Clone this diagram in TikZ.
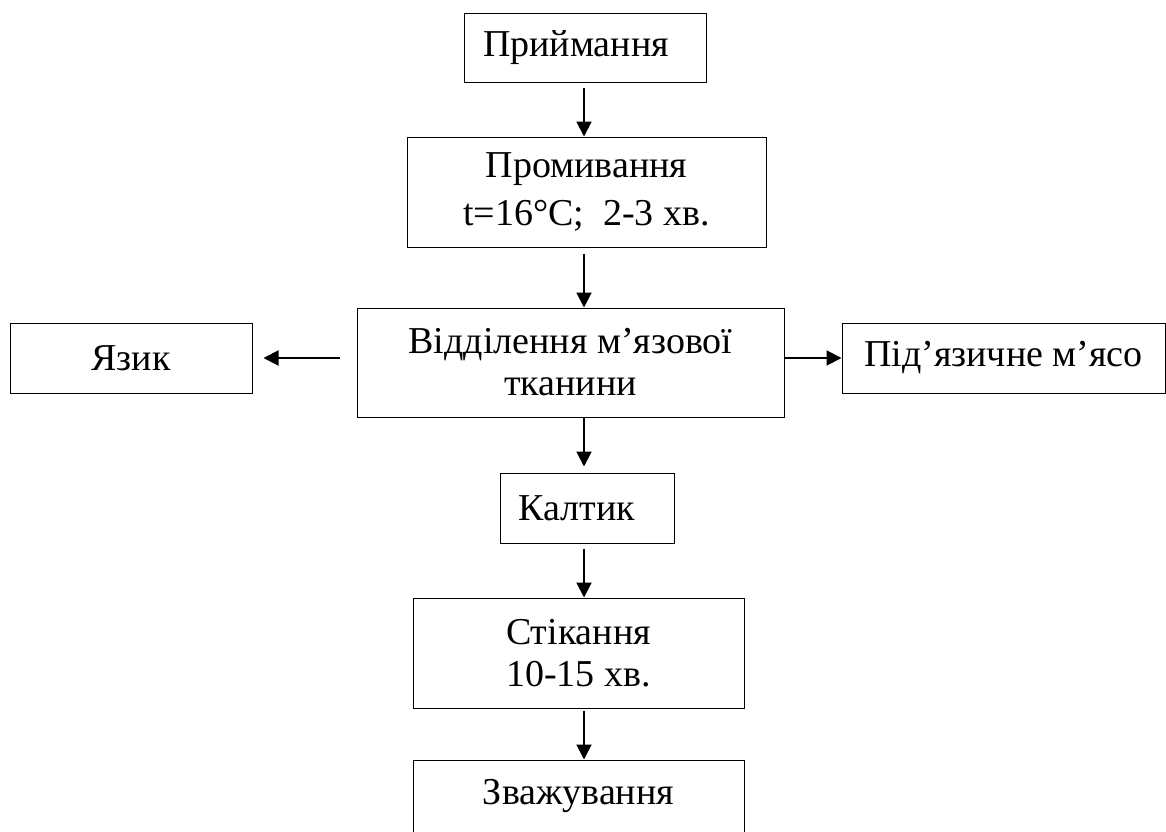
\documentclass[tikz,border=0pt]{standalone}
\usepackage{fontspec}
\setmainfont{Liberation Serif}
\newfontfamily\boxfont{Liberation Serif}
\usetikzlibrary{arrows.meta}

\begin{document}
\begin{tikzpicture}[x=1pt, y=-1pt,
        box/.style={draw, line width=1pt, inner sep=0pt, align=center, font=\boxfont\fontsize{38}{42}\selectfont},
        flow/.style={line width=2pt, -{Triangle[length=15pt, width=15pt]}}]
        \useasboundingbox (0,0) rectangle (1166,831);
        \coordinate (col) at (584,0);
        \node[box, minimum width=242pt, minimum height=69pt] (recv) at (585,47.5) {Приймання\hspace*{18pt}};
        \node[box, minimum width=359pt, minimum height=110pt, font=\boxfont\fontsize{38}{48}\selectfont] (wash) at (586.5,192) {Промивання\\t=16°C;\ \ 2-3 хв.};
        \node[box, minimum width=427pt, minimum height=109pt] (sep) at (570.5,362.5) {Відділення м’язової\\тканини};
        \node[box, minimum width=242pt, minimum height=70pt] (tongue) at (131,358) {Язик};
        \node[box, minimum width=323pt, minimum height=70pt] (meat) at (1003.5,358) {Під’язичне м’ясо};
        \node[box, minimum width=174pt, minimum height=70pt] (kaltyk) at (587,508) {Калтик\hspace*{20pt}};
        \node[box, minimum width=331pt, minimum height=110pt] (drain) at (578.5,653) {Стікання\\10-15 хв.};
        \node[box, minimum width=331pt, minimum height=100pt, text depth=36pt] (weigh) at (578.5,810) {Зважування};
        \draw[flow] ([yshift=-5pt]recv.south -| col) -- (wash.north -| col);
        \draw[flow] ([yshift=-6pt]wash.south -| col) -- (sep.north -| col);
        \draw[flow] (sep.south -| col) -- ([yshift=6pt]kaltyk.north -| col);
        \draw[flow] ([yshift=-5pt]kaltyk.south -| col) -- (drain.north -| col);
        \draw[flow] ([yshift=-2pt]drain.south -| col) -- (weigh.north -| col);
        \draw[flow] ([xshift=-17pt]sep.west |- tongue.east) -- ([xshift=11pt]tongue.east);
        \draw[flow] (sep.east |- meat.west) -- (meat.west);
\end{tikzpicture}
\end{document}
